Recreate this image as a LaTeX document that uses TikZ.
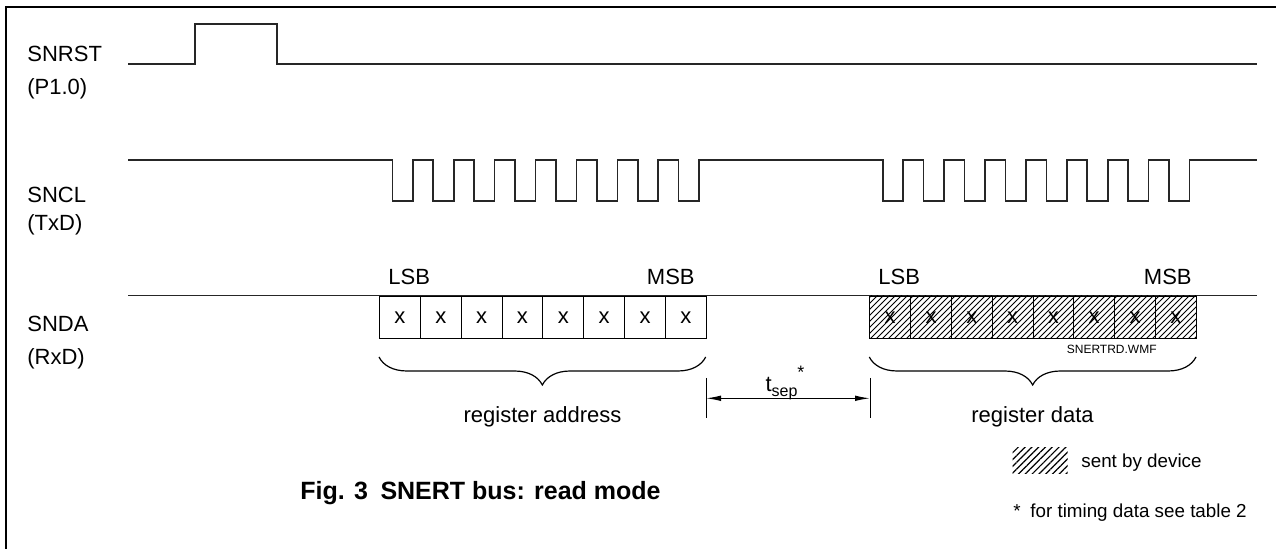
\documentclass[tikz,border=0pt]{standalone}
\usepackage{fontspec}
\setmainfont{Liberation Sans}
\usetikzlibrary{arrows.meta,patterns,patterns.meta,decorations.pathreplacing}
\tikzset{>={Latex[length=7.5pt,width=2.8pt]}}
\tikzset{
  wave/.style={line width=0.8pt,black!85},
  bitbox/.style={draw,line width=0.5pt,minimum width=20.43pt,minimum height=21pt,
    inner sep=0pt,anchor=north west,font=\fontsize{11}{13}\selectfont},
  lbl/.style={anchor=base west,inner sep=0pt,font=\fontsize{11}{13}\selectfont},
  small/.style={anchor=base west,inner sep=0pt,font=\fontsize{9.4}{11}\selectfont},
  brc/.style={decorate,decoration={brace,mirror,amplitude=14pt},line width=0.6pt},
}

\begin{document}
\begin{tikzpicture}[x=0.5pt,y=-0.5pt]
    \useasboundingbox (0,0) rectangle (1276,549);
    \draw[line width=1pt] (1276,7) -- (6,7) -- (6,549);

    % signal names
    \node[lbl] (rst) at (27,62) {SNRST};
    \node[lbl] (rstpin) at (27,95) {(P1.0)};
    \node[lbl] (cl) at (27,203) {SNCL};
    \node[lbl] (clpin) at (27,231) {(TxD)};
    \node[lbl] (da) at (27,332) {SNDA};
    \node[lbl] (dapin) at (27,365) {(RxD)};

    % reset pulse
    \draw[wave] (128,64) -| (195,24) -| (277,64) -- (1257,64);

    % two bursts of 8 clocks
    \draw[wave] (128,160)
        foreach \s in {392.3,882.7} { foreach \k in {0,...,7} {
            -- (\s+40.9*\k,160) |- ++(20.5,41) -- ++(0,-41) } }
        -- (1257,160);

    % data line with address and data bits
    \draw[wave] (128,295.7) -- (1257,295.7);
    \foreach \k in {0,...,7} {
        \node[bitbox] (a\k) at (379+40.85*\k,295.7) {x};
        \node[bitbox] (d\k) at (869.3+40.8*\k,295.7) {x};
    }
    \fill[pattern=north east lines] (d0.north west) rectangle (d7.south east);

    \node[lbl] (lsba) at (388,285) {LSB};
    \node[lbl,anchor=base east] (msba) at (695,285) {MSB};
    \node[lbl] (lsbd) at (878,285) {LSB};
    \node[lbl,anchor=base east] (msbd) at (1192,285) {MSB};
    \node[anchor=base east,inner sep=0pt,font=\fontsize{6}{7}\selectfont] (fname) at (1157,354) {SNERTRD.WMF};

    % braces
    \draw[brc] (379,357) -- (705.7,357);
    \draw[brc] (869.3,357) -- (1196,357);
    \node[lbl,anchor=base] (addr) at (542.5,423) {register address};
    \node[lbl,anchor=base] (data) at (1032.5,423) {register data};

    % separation time
    \coordinate (sepL) at (706,398.3);
    \coordinate (sepR) at (870,398.3);
    \draw[line width=0.5pt] (706,378) -- (706,418) (870,378) -- (870,418);
    \draw[<->,line width=0.6pt] (sepL) -- (sepR);
    \node[lbl,anchor=base] (tsep) at (785,392)
        {t\raisebox{-0.35ex}{\fontsize{8}{9}\selectfont sep}\raisebox{1.2ex}{\fontsize{9}{9}\selectfont *}};

    % legend
    \node[pattern={Lines[angle=45,distance=2.4pt,line width=0.6pt]},minimum width=27.5pt,minimum height=13pt,
        inner sep=0pt,anchor=north west] (swatch) at (1012,447) {};
    \node[small] (sent) at (1081,468) {sent by device};
    \node[small] (star) at (1013,518) {*};
    \node[small] (note) at (1030,518) {for timing data see table 2};

    \node[anchor=base west,inner sep=0pt,font=\bfseries\fontsize{12.5}{14}\selectfont] (cap) at (300,500)
        {Fig. 3\enspace SNERT bus: read mode};
\end{tikzpicture}
\end{document}
